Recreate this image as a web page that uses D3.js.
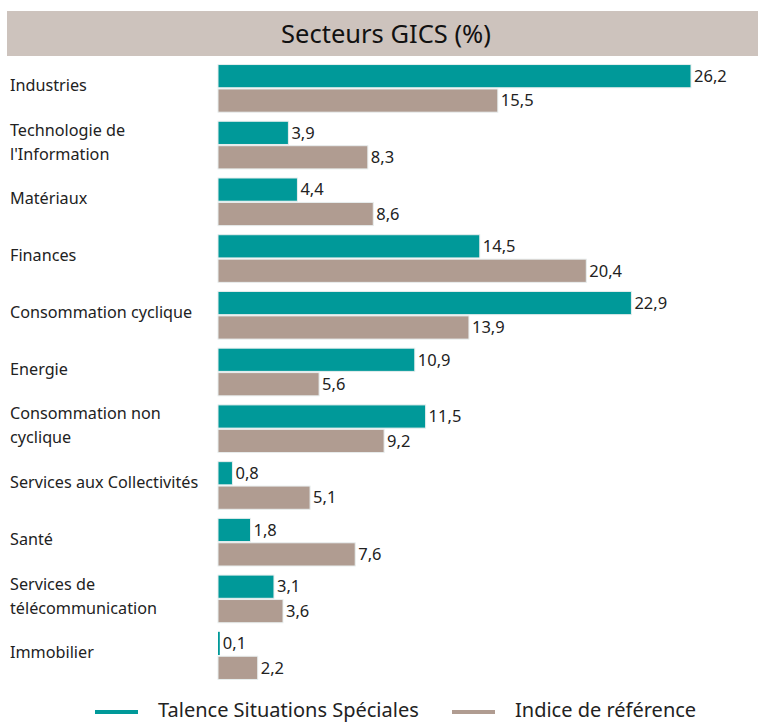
<!DOCTYPE html>
<html>
<head>
<meta charset="utf-8">
<script src="https://cdn.jsdelivr.net/npm/d3@7"></script>
<style>
  body { margin: 0; background: #fff; }
  text { font-family: "Noto Sans", "Open Sans", sans-serif; fill: #222; }
</style>
</head>
<body>
<script>
const width = 758;
const height = 723;

// data
const categories = [
    ["Industries"],
    ["Technologie de", "l'Information"],
    ["Matériaux"],
    ["Finances"],
    ["Consommation cyclique"],
    ["Energie"],
    ["Consommation non", "cyclique"],
    ["Services aux Collectivités"],
    ["Santé"],
    ["Services de", "télécommunication"],
    ["Immobilier"]
];
const fundValues = [26.2, 3.9, 4.4, 14.5, 22.9, 10.9, 11.5, 0.8, 1.8, 3.1, 0.1];
const indexValues = [15.5, 8.3, 8.6, 20.4, 13.9, 5.6, 9.2, 5.1, 7.6, 3.6, 2.2];
const seriesNames = ["Talence Situations Spéciales", "Indice de référence"];
const seriesColors = ["#009999", "#b09c91"];

var svg = d3.select("body").append("svg")
    .attr("width", width)
    .attr("height", height);

//title band
svg.append("rect")
    .attr("x", 7).attr("y", 11)
    .attr("width", width - 7).attr("height", 45)
    .attr("fill", "#cdc3bd");
svg.append("text")
    .attr("x", 386).attr("y", 43)
    .attr("text-anchor", "middle")
    .style("font-size", "25.5px")
    .style("fill", "#111")
    .text("Secteurs GICS (%)");

//scales
var x = d3.scaleLinear().domain([0, 26.2]).range([218, 691]);
var y = d3.scaleBand()
    .domain(d3.range(categories.length))
    .range([60, 684])
    .paddingInner(0.16)
    .paddingOuter(0.08);
var ySub = d3.scaleBand()
    .domain([0, 1])
    .range([0, y.bandwidth()])
    .paddingInner(0.05);

var rows = categories.map(function (c, i) {
    return { label: c, values: [fundValues[i], indexValues[i]] };
});

var groups = svg.selectAll("g.cat")
    .data(rows)
    .enter()
    .append("g")
    .attr("class", "cat")
    .attr("transform", (d, i) => "translate(0," + y(i) + ")");

//category labels
groups.append("text")
    .attr("x", 10)
    .attr("y", d => y.bandwidth() / 2 - 3 - (d.label.length - 1) * 12)
    .style("font-size", "16.2px")
    .selectAll("tspan")
    .data(d => d.label)
    .enter()
    .append("tspan")
    .attr("x", 10)
    .attr("dy", (d, i) => i === 0 ? "0.35em" : "24px")
    .text(d => d);

//bars
groups.selectAll("rect")
    .data(d => d.values)
    .enter()
    .append("rect")
    .attr("x", x(0))
    .attr("y", (d, i) => ySub(i))
    .attr("width", d => x(d) - x(0))
    .attr("height", ySub.bandwidth())
    .attr("fill", (d, i) => seriesColors[i])
    .attr("stroke", d => (x(d) - x(0)) > 3 ? "#e8eeee" : "none")
    .attr("stroke-width", 1);

//value labels
groups.selectAll("text.val")
    .data(d => d.values)
    .enter()
    .append("text")
    .attr("class", "val")
    .attr("x", d => x(d) + 3)
    .attr("y", (d, i) => ySub(i) + ySub.bandwidth() / 2)
    .attr("dy", "0.35em")
    .style("font-size", "16.5px")
    .text(d => d3.format(".1f")(d).replace(".", ","));

//legend
var legendX = [95, 452];
var legend = svg.selectAll("g.legend")
    .data(seriesNames)
    .enter()
    .append("g")
    .attr("class", "legend")
    .attr("transform", (d, i) => "translate(" + legendX[i] + ",712)");
legend.append("line")
    .attr("x1", 0).attr("x2", 43)
    .attr("stroke", (d, i) => seriesColors[i])
    .attr("stroke-width", 4);
legend.append("text")
    .attr("x", 63)
    .attr("y", -2)
    .attr("dy", "0.35em")
    .style("font-size", "20px")
    .text(d => d);
</script>
</body>
</html>
